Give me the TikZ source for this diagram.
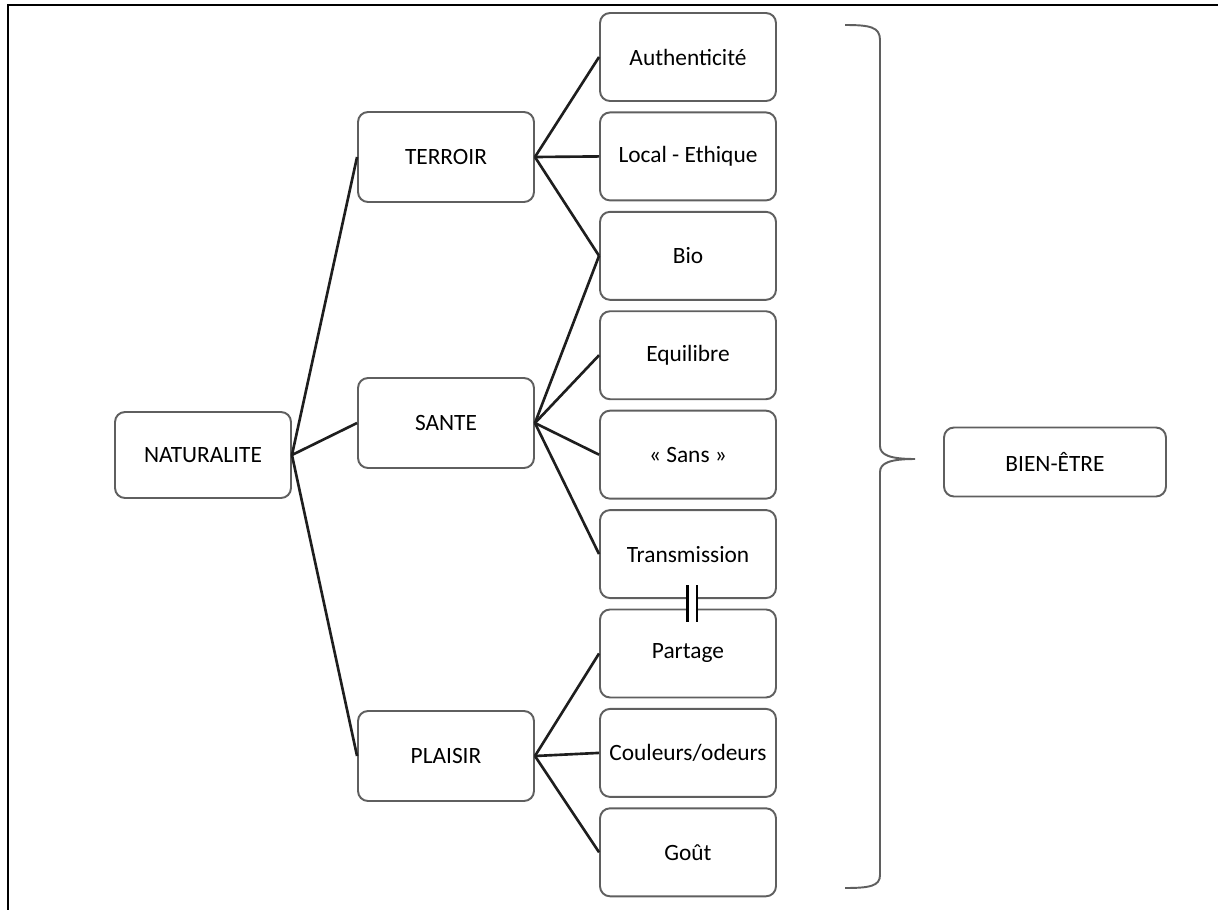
\documentclass[tikz,border=0pt]{standalone}
\usepackage{fontspec}
\setmainfont{Carlito}
\usetikzlibrary{positioning}
\definecolor{boxgrey}{RGB}{95,95,95}
\definecolor{linkdark}{RGB}{30,30,30}

\tikzset{
  box/.style={draw=boxgrey, line width=1.1pt, rounded corners=0.2cm, minimum width=3.52cm, minimum height=1.76cm, align=center, inner sep=1pt, font=\fontsize{13.3}{15}\selectfont},
  link/.style={draw=linkdark, line width=1.5pt},
}

\begin{document}
\begin{tikzpicture}[x=0.02cm, y=-0.02cm]
  \useasboundingbox (0,0) rectangle (1218,910);
  % frame
  \draw[line width=1.7pt] (8,910) -- (8,5) -- (1218,5);

  % right column
  \node[box] (auth) at (688,57) {Authenticité};
  \node[box, below=0.19cm of auth] (local) {Local - Ethique};
  \node[box, below=0.19cm of local] (bio) {Bio};
  \node[box, below=0.19cm of bio] (equil) {Equilibre};
  \node[box, below=0.19cm of equil] (sans) {« Sans »};
  \node[box, below=0.19cm of sans] (trans) {Transmission};
  \node[box, below=0.19cm of trans] (partage) {Partage};
  \node[box, below=0.19cm of partage] (couleurs) {Couleurs/odeurs};
  \node[box, below=0.19cm of couleurs] (gout) {Goût};

  % middle column and root
  \node[box, minimum height=1.8cm] (terroir) at (446,157) {TERROIR};
  \node[box, minimum height=1.8cm] (sante) at (446,423) {SANTE};
  \node[box, minimum height=1.8cm] (plaisir) at (446,756) {PLAISIR};
  \node[box, minimum height=1.72cm] (nat) at (203,455) {NATURALITE};
  \node[box, minimum width=4.44cm, minimum height=1.38cm] (bien) at (1055,462) {BIEN-ÊTRE};

  \draw[link] (nat.east) -- (terroir.west);
  \draw[link] (nat.east) -- (sante.west);
  \draw[link] (nat.east) -- (plaisir.west);

  \draw[link] (terroir.east) -- (auth.west);
  \draw[link] (terroir.east) -- (local.west);
  \draw[link] (terroir.east) -- (bio.west);

  \draw[link] (sante.east) -- (bio.west);
  \draw[link] (sante.east) -- (equil.west);
  \draw[link] (sante.east) -- (sans.west);
  \draw[link] (sante.east) -- (trans.west);

  \draw[link] (plaisir.east) -- (partage.west);
  \draw[link] (plaisir.east) -- (couleurs.west);
  \draw[link] (plaisir.east) -- (gout.west);

  % double bar between Transmission and Partage
  \draw[draw=black, line width=1.7pt, double, double distance=0.14cm]
    ([xshift=0.08cm, yshift=0.28cm]trans.south) -- ([xshift=0.08cm, yshift=-0.26cm]partage.north);

  % brace
  \draw[boxgrey, line width=1.1pt]
    (845,25) .. controls (870,25) and (880,27) .. (880,40)
    -- (880,446) .. controls (880,455) and (890,459) .. (915,459)
    .. controls (890,459) and (880,463) .. (880,472)
    -- (880,875) .. controls (880,886) and (870,888) .. (845,888);
\end{tikzpicture}
\end{document}
